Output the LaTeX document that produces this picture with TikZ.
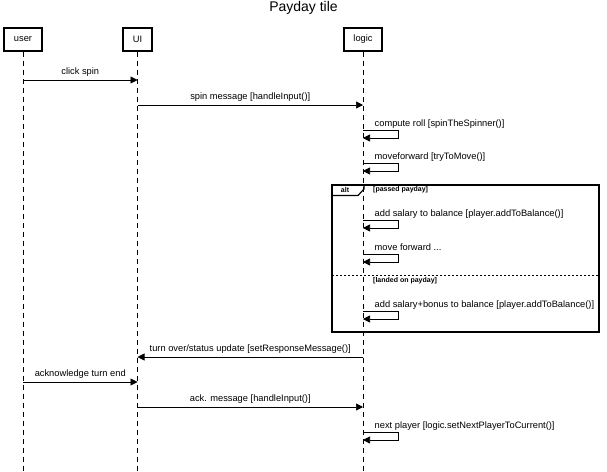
\documentclass[tikz,border=0pt]{standalone}
\usepackage{fontspec}
\setmainfont{Liberation Sans}
\usetikzlibrary{arrows.meta}
\begin{document}
\begin{tikzpicture}[x=1pt,y=-1pt,
  head/.style={draw,line width=1.3pt,minimum width=#1,minimum height=23pt,inner sep=0pt,font=\fontsize{9.3}{10}\selectfont},
  life/.style={draw,line width=0.9pt,dash pattern=on 5pt off 4pt},
  msg/.style={draw,line width=0.7pt,-{Triangle[length=7pt,width=7pt]}},
  lbl/.style={font=\fontsize{9.3}{10}\selectfont,inner sep=0pt},
  frm/.style={draw,line width=1.2pt},
  guard/.style={font=\bfseries\fontsize{7}{8}\selectfont,inner sep=0pt,anchor=west}]
\useasboundingbox (0,0) rectangle (607,471);
\node[font=\fontsize{14}{16}\selectfont] (title) at (303.5,8) {Payday tile};
\node[head=38pt] (user) at (23,39.5) {user};
\node[head=29pt] (ui) at (137.5,39.5) {UI};
\node[head=38pt] (logic) at (363,39.5) {logic};
\coordinate (userend) at (23,471);
\coordinate (uiend) at (137.5,471);
\coordinate (logicend) at (363,471);
\draw[life] (user.south) -- (userend);
\draw[life] (ui.south) -- (uiend);
\draw[life] (logic.south) -- (logicend);
% click spin
\coordinate (u1) at (23,80); \coordinate (i1) at (137.5,80);
\draw[msg] (u1) -- node[lbl,above=3pt] {click spin} (i1);
% spin message
\coordinate (i2) at (137.5,105); \coordinate (l2) at (363,105);
\draw[msg] (i2) -- node[lbl,above=3pt] {spin message [handleInput()]} (l2);
% self loops
\foreach \nm/\y/\txt in {a/130/{compute roll [spinTheSpinner()]},
                          b/163/{moveforward [tryToMove()]},
                          c/220/{add salary to balance [player.addToBalance()]},
                          d/254/{move forward ...},
                          e/311/{add salary+bonus to balance [player.addToBalance()]},
                          f/432/{next player [logic.setNextPlayerToCurrent()]}}{
  \coordinate (s\nm) at (363,\y);
  \coordinate (t\nm) at (363,\y+8);
  \node[lbl,anchor=base west] (lab\nm) at (374.5,\y-4) {\txt};
  \draw[msg] (s\nm) -- ++(35,0) |- (t\nm);
}
% alt frame
\coordinate (fa) at (332,185); \coordinate (fb) at (599,332);
\draw[frm] (fa) rectangle (fb);
\draw[frm] (332,185) -- (364,185) -- (364,189) -- (358,195.5) -- (332,195.5);
\node[guard,anchor=center] (alt) at (345,189.5) {alt};
\node[guard] (g1) at (373,189.5) {[passed payday]};
\coordinate (da) at (332,275.5); \coordinate (db) at (599,275.5);
\draw[line width=1pt,dash pattern=on 2pt off 2pt] (da) -- (db);
\node[guard] (g2) at (373,280.5) {[landed on payday]};
% return
\coordinate (l3) at (363,357); \coordinate (i3) at (137.5,357);
\draw[msg] (l3) -- node[lbl,above=3pt] {turn over/status update [setResponseMessage()]} (i3);
\coordinate (u4) at (23,382); \coordinate (i4) at (137.5,382);
\draw[msg] (u4) -- node[lbl,above=3pt] {acknowledge turn end} (i4);
\coordinate (i5) at (137.5,407); \coordinate (l5) at (363,407);
\draw[msg] (i5) -- node[lbl,above=3pt] {ack. message [handleInput()]} (l5);
\end{tikzpicture}
\end{document}
